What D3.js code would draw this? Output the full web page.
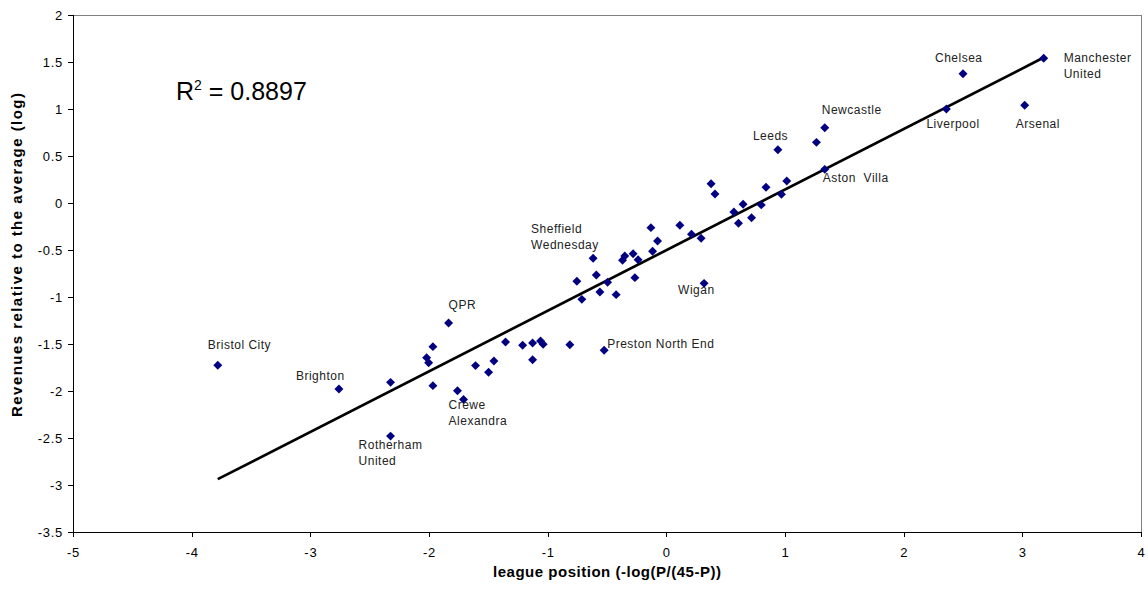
<!DOCTYPE html>
<html>
<head>
<meta charset="utf-8">
<script src="https://cdn.jsdelivr.net/npm/d3@7"></script>
<style>
  body { margin: 0; background: #fff; }
  svg { display: block; font-family: "Liberation Sans", Arial, sans-serif; }
</style>
</head>
<body>
<svg id="chart" width="1148" height="596"></svg>
<script>
// league position (x) vs revenues relative to the average (y), both log
const xVals = [3.18, 2.50, 2.36, 3.02, 1.335, 1.265, 1.335, 0.94, 0.377, 0.41,
  0.84, 1.015, 0.97, 0.647, 0.569, 0.80, 0.608, 0.718, 0.114, -0.13,
  0.212, 0.293, -0.074, -0.116, -0.617, -0.35, -0.369, -0.28, -0.238, -0.59,
  -0.265, -0.754, -0.495, 0.318, -0.712, -0.56, -0.423, -3.78, -1.835, -1.967,
  -2.02, -2.003, -2.759, -2.324, -1.967, -1.76, -1.709, -1.608, -1.498, -1.453,
  -2.324, -1.355, -1.211, -1.127, -1.06, -1.038, -1.127, -0.813, -0.524];
const yVals = [1.54, 1.375, 1.0, 1.04, 0.80, 0.645, 0.358, 0.567, 0.205, 0.096,
  0.167, 0.234, 0.092, -0.014, -0.096, -0.02, -0.216, -0.156, -0.237, -0.262,
  -0.333, -0.376, -0.404, -0.514, -0.588, -0.564, -0.61, -0.539, -0.603, -0.766,
  -0.794, -0.833, -0.844, -0.855, -1.025, -0.947, -0.975, -1.727, -1.277, -1.528,
  -1.645, -1.699, -1.979, -1.908, -1.943, -1.997, -2.09, -1.73, -1.80, -1.68,
  -2.48, -1.479, -1.514, -1.489, -1.468, -1.503, -1.667, -1.507, -1.567];
const clubNames = ["Manchester United", "Chelsea", "Liverpool", "Arsenal", "Newcastle", "", "Aston  Villa", "Leeds", "", "",
  "", "", "", "", "", "", "", "", "", "",
  "", "", "", "", "Sheffield Wednesday", "", "", "", "", "",
  "", "", "", "Wigan", "", "", "", "Bristol City", "QPR", "",
  "", "", "Brighton", "", "", "", "Crewe Alexandra", "", "", "",
  "Rotherham United", "", "", "", "", "", "", "", "Preston North End"];
const xTicks = [-5, -4, -3, -2, -1, 0, 1, 2, 3, 4];
const yTicks = [2, 1.5, 1, 0.5, 0, -0.5, -1, -1.5, -2, -2.5, -3, -3.5];
const rSquaredText = "0.8897";

// label placement (text lines, offset from the point)
const labelPos = {
  "Manchester United": { lines: ["Manchester", "United"], dx: 20, dy: 4 },
  "Chelsea": { lines: ["Chelsea"], dx: -28, dy: -12 },
  "Liverpool": { lines: ["Liverpool"], dx: -20, dy: 19 },
  "Arsenal": { lines: ["Arsenal"], dx: -9, dy: 23 },
  "Newcastle": { lines: ["Newcastle"], dx: -3, dy: -14 },
  "Aston  Villa": { lines: ["Aston\u00a0 Villa"], dx: -2, dy: 13 },
  "Leeds": { lines: ["Leeds"], dx: -25, dy: -10 },
  "Sheffield Wednesday": { lines: ["Sheffield", "Wednesday"], dx: -62, dy: -25 },
  "Wigan": { lines: ["Wigan"], dx: -26, dy: 11 },
  "Bristol City": { lines: ["Bristol City"], dx: -10, dy: -16 },
  "QPR": { lines: ["QPR"], dx: 0, dy: -14 },
  "Brighton": { lines: ["Brighton"], dx: -43, dy: -9 },
  "Crewe Alexandra": { lines: ["Crewe", "Alexandra"], dx: -15, dy: 10 },
  "Rotherham United": { lines: ["Rotherham", "United"], dx: -32, dy: 13 },
  "Preston North End": { lines: ["Preston North End"], dx: 3, dy: -2 }
};

const data = xVals.map((x, i) => ({ x: x, y: yVals[i], name: clubNames[i] }));

const svg = d3.select("#chart");
const plotL = 73, plotR = 1141, plotT = 15, plotB = 532;

const x = d3.scaleLinear().domain([-5, 4]).range([plotL, plotR]);
const y = d3.scaleLinear().domain([-3.5, 2]).range([plotB, plotT]);

// frame: grey top/right, black axes
svg.append("rect")
  .attr("x", plotL).attr("y", plotT)
  .attr("width", plotR - plotL).attr("height", plotB - plotT)
  .attr("fill", "none").attr("stroke", "#808080").attr("shape-rendering", "crispEdges");

const xAxis = svg.append("g")
  .attr("transform", `translate(0,${plotB})`)
  .call(d3.axisBottom(x).tickValues(xTicks).tickSize(5).tickPadding(11).tickFormat(d3.format("")));
const yAxis = svg.append("g")
  .attr("transform", `translate(${plotL},0)`)
  .call(d3.axisLeft(y).tickValues(yTicks).tickSize(5).tickPadding(5).tickFormat(d3.format("")));

[xAxis, yAxis].forEach(g => {
  g.select(".domain").attr("stroke", "#000").attr("shape-rendering", "crispEdges");
  g.selectAll(".tick line").attr("stroke", "#000").attr("shape-rendering", "crispEdges");
  g.selectAll(".tick text").attr("font-size", 13).attr("fill", "#000")
    .attr("letter-spacing", 0.7)
    .attr("font-family", "Liberation Sans, Arial, sans-serif")
    .text(d => d < 0 ? "-" + Math.abs(d) : d);
});
yAxis.select(".domain").attr("d", `M0,${plotT}V${plotB}`);
xAxis.select(".domain").attr("d", `M${plotL},0H${plotR}`);

// least-squares trendline
const mx = d3.mean(data, d => d.x), my = d3.mean(data, d => d.y);
const slope = d3.sum(data, d => (d.x - mx) * (d.y - my)) / d3.sum(data, d => (d.x - mx) ** 2);
const icpt = my - slope * mx;
const [x0, x1] = d3.extent(data, d => d.x);
svg.append("line")
  .attr("x1", x(x0)).attr("y1", y(icpt + slope * x0))
  .attr("x2", x(x1)).attr("y2", y(icpt + slope * x1))
  .attr("stroke", "#000").attr("stroke-width", 2.7);

// points
svg.append("g")
  .selectAll("path")
  .data(data)
  .join("path")
  .attr("d", d3.symbol(d3.symbolSquare, 40))
  .attr("transform", d => `translate(${x(d.x)},${y(d.y)}) rotate(45)`)
  .attr("fill", "#000080");

// club labels
const lab = svg.append("g").attr("font-size", 12).attr("letter-spacing", 0.5).attr("fill", "#222");
data.filter(d => d.name).forEach(d => {
  const p = labelPos[d.name];
  const t = lab.append("text")
    .attr("x", x(d.x) + p.dx).attr("y", y(d.y) + p.dy);
  p.lines.forEach((line, i) => {
    t.append("tspan").attr("x", x(d.x) + p.dx).attr("dy", i === 0 ? 0 : 16).text(line);
  });
});

// R squared
const r2 = svg.append("text")
  .attr("x", 176).attr("y", 100)
  .attr("font-size", 25).attr("fill", "#000");
r2.append("tspan").text("R");
r2.append("tspan").attr("font-size", 14).attr("dy", -10).text("2");
r2.append("tspan").attr("dy", 10).text(" = " + rSquaredText);

// axis titles
svg.append("text")
  .attr("x", 607).attr("y", 577)
  .attr("text-anchor", "middle")
  .attr("font-size", 15).attr("font-weight", "bold")
  .attr("textLength", 228).attr("lengthAdjust", "spacing")
  .text("league position (-log(P/(45-P))");
svg.append("text")
  .attr("transform", "translate(22,255) rotate(-90)")
  .attr("text-anchor", "middle")
  .attr("font-size", 15).attr("font-weight", "bold")
  .attr("textLength", 324).attr("lengthAdjust", "spacing")
  .text("Revenues relative to the average (log)");
</script>
</body>
</html>
